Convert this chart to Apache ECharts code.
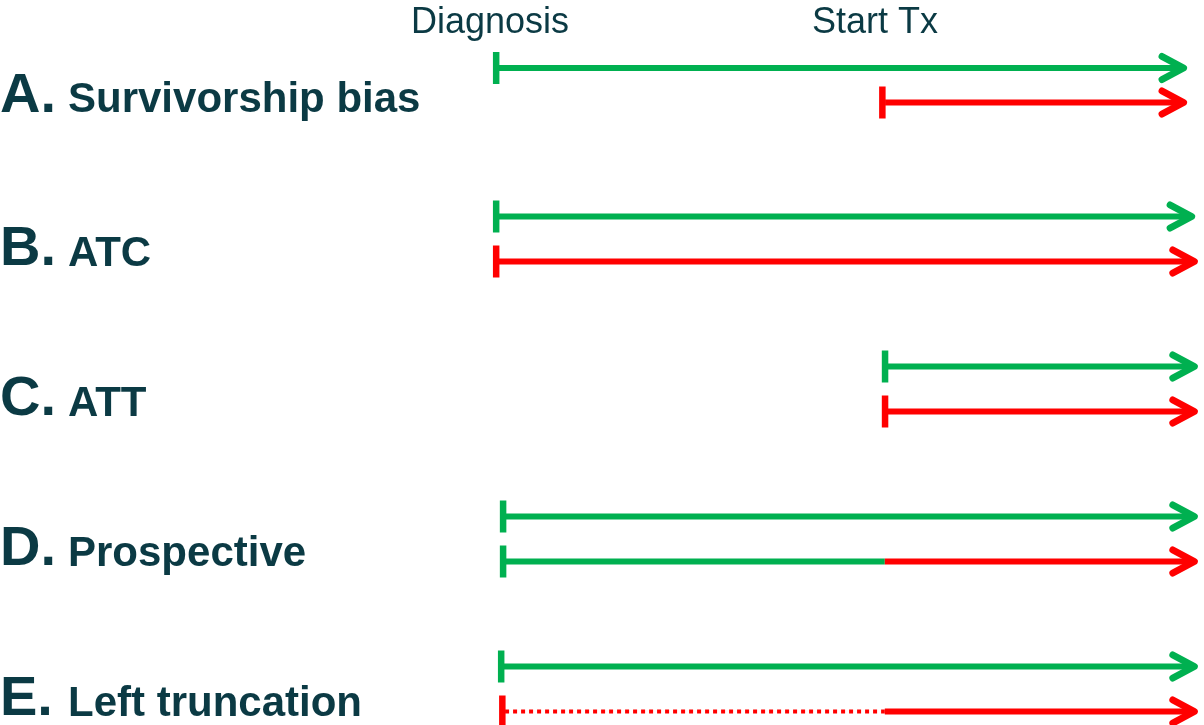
<!DOCTYPE html>
<html><head><meta charset="utf-8">
<script src="https://cdn.jsdelivr.net/npm/echarts@6/dist/echarts.min.js"></script>
<style>html,body{margin:0;padding:0;background:#fff}#c{width:1204px;height:725px}</style>
</head><body><div id="c"></div>
<script>
// ---- data ----
const rowLetters = ['A.', 'B.', 'C.', 'D.', 'E.'];
const rowLabels = ['Survivorship bias', 'ATC', 'ATT', 'Prospective', 'Left truncation'];
const milestoneLabels = ['Diagnosis', 'Start Tx'];
const milestoneX = [0, 1];
// vertical position (in row units) of the two timelines of each row
const laneY = [0, 0.23, 0.99, 1.29, 1.99, 2.29, 2.99, 3.29, 3.99, 4.29];
const laneRow = [0, 0, 1, 1, 2, 2, 3, 3, 4, 4];
// time segments: lane, start, end, kind (time unit: Diagnosis = 0, Start Tx = 1)
const kinds = ['untreated', 'treated', 'unobserved'];
const segLane  = [0, 1, 2, 3, 4, 5, 6, 7, 7, 8, 9, 9];
const segStart = [0, 1.003, 0, 0, 1.01, 1.01, 0.018, 0.018, 1.01, 0.013, 0.016, 1.01];
const segEnd   = [1.795, 1.795, 1.816, 1.823, 1.823, 1.823, 1.823, 1.01, 1.823, 1.823, 1.01, 1.823];
const segKind  = ['untreated', 'treated', 'untreated', 'treated', 'untreated', 'treated', 'untreated', 'untreated', 'treated', 'untreated', 'unobserved', 'treated'];

// ---- styles ----
const GREEN = '#00B050', RED = '#FF0000', TEXT = '#0b3a44';
const kindStyle = {
  untreated: { color: GREEN, width: 6, dash: null },
  treated: { color: RED, width: 6, dash: null },
  unobserved: { color: RED, width: 4, dash: [4, 4] }
};
const FONT = '"Liberation Sans", Arial, sans-serif';
const X_MIN = -1.288, X_MAX = 1.839;

// ---- derived series data ----
const segData = segLane.map((l, i) => {
  const first = segLane.indexOf(l) === i;
  const last = segLane.lastIndexOf(l) === i;
  return [segStart[i], segEnd[i], laneY[l], kinds.indexOf(segKind[i]), first ? 1 : 0, last ? 1 : 0];
});
const tickData = [], arrowData = [];
laneY.forEach((y, l) => {
  const f = segLane.indexOf(l), la = segLane.lastIndexOf(l);
  tickData.push([segStart[f], y, kinds.indexOf(segKind[f])]);
  arrowData.push([segEnd[la], y, kinds.indexOf(segKind[la])]);
});
const labelData = rowLetters.map((_, r) => {
  const ys = laneY.filter((_, l) => laneRow[l] === r);
  return [X_MIN, (ys[0] + ys[1]) / 2, r];
});
const headerData = milestoneX.map((x, i) => [x, laneY[0], i]);

const chart = echarts.init(document.getElementById('c'), null, { renderer: 'canvas' });
chart.setOption({
  animation: false,
  grid: { left: 0, right: 0, top: 8, bottom: 0 },
  xAxis: { type: 'value', min: X_MIN, max: X_MAX, show: false },
  yAxis: { type: 'value', min: -0.4, max: 4.38, inverse: true, show: false },
  series: [
    {
      type: 'custom', clip: false, data: segData, encode: { x: [0, 1], y: 2 },
      renderItem: (p, api) => {
        const y = api.value(2);
        const a = api.coord([api.value(0), y]);
        const b = api.coord([api.value(1), y]);
        const st = kindStyle[kinds[api.value(3)]];
        let x0 = a[0], x1 = b[0];
        if (api.value(4)) x0 += 3;
        if (api.value(5)) x1 -= 4;
        return { type: 'line', shape: { x1: x0, y1: a[1], x2: x1, y2: b[1] },
          style: { stroke: st.color, lineWidth: st.width, lineDash: st.dash, lineCap: 'butt' } };
      }
    },
    {
      type: 'custom', clip: false, data: tickData, encode: { x: 0, y: 1 },
      renderItem: (p, api) => {
        const c = api.coord([api.value(0), api.value(1)]);
        const st = kindStyle[kinds[api.value(2)]];
        return { type: 'rect', shape: { x: c[0] - 3, y: c[1] - 16, width: 6.5, height: 32 },
          style: { fill: st.color } };
      }
    },
    {
      type: 'custom', clip: false, data: arrowData, encode: { x: 0, y: 1 },
      renderItem: (p, api) => {
        const c = api.coord([api.value(0), api.value(1)]);
        const st = kindStyle[kinds[api.value(2)]];
        return { type: 'polyline',
          shape: { points: [[c[0] - 25, c[1] - 11.5], [c[0] - 3.5, c[1]], [c[0] - 25, c[1] + 11.5]] },
          style: { stroke: st.color, lineWidth: 7, lineCap: 'round', lineJoin: 'round', fill: null } };
      }
    },
    {
      type: 'custom', clip: false, data: labelData, encode: { x: 0, y: 1 },
      renderItem: (p, api) => {
        const c = api.coord([api.value(0), api.value(1)]);
        const r = api.value(2);
        return { type: 'group', children: [
          { type: 'text', x: c[0], y: c[1] + 11,
            style: { text: rowLetters[r], fill: TEXT, fontSize: 56, fontWeight: 'bold', fontFamily: FONT,
              align: 'left', verticalAlign: 'middle' } },
          { type: 'text', x: c[0] + 68, y: c[1] + 15,
            style: { text: rowLabels[r], fill: TEXT, fontSize: 42, fontWeight: 'bold', fontFamily: FONT,
              align: 'left', verticalAlign: 'middle' } }
        ] };
      }
    },
    {
      type: 'custom', clip: false, data: headerData, encode: { x: 0, y: 1 },
      renderItem: (p, api) => {
        const c = api.coord([api.value(0), api.value(1)]);
        return { type: 'text', x: c[0] - 6, y: c[1] - 45,
          style: { text: milestoneLabels[api.value(2)], fill: TEXT, fontSize: 36, fontFamily: FONT,
            align: 'center', verticalAlign: 'middle' } };
      }
    }
  ]
});
</script>
</body></html>
